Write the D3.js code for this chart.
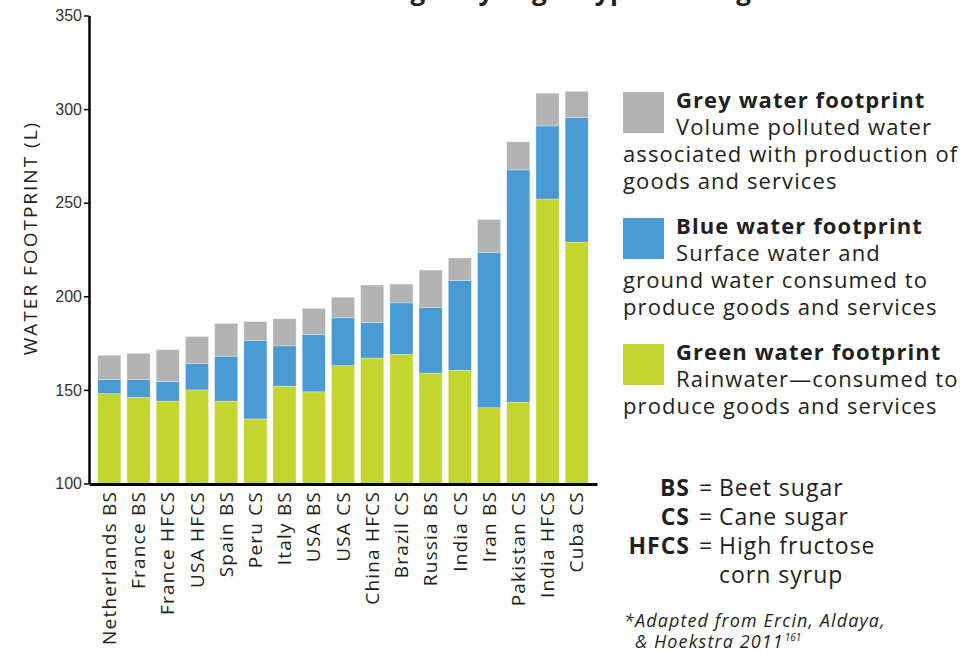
<!DOCTYPE html>
<html>
<head>
<meta charset="utf-8">
<script src="https://cdn.jsdelivr.net/npm/d3@7"></script>
<style>
  body { margin: 0; background: #fff; }
  svg { display: block; }
</style>
</head>
<body>
<svg id="chart" width="976" height="654"></svg>
<script>
// chart values
const categories = ["Netherlands BS", "France BS", "France HFCS", "USA HFCS", "Spain BS", "Peru CS",
  "Italy BS", "USA BS", "USA CS", "China HFCS", "Brazil CS", "Russia BS", "India CS", "Iran BS",
  "Pakistan CS", "India HFCS", "Cuba CS"];
const green = [148, 146, 144, 150, 144, 134.5, 152, 149, 163, 167, 169, 159, 160.5, 140.5, 143.5, 252, 229];
const blue = [7.5, 9.5, 10.5, 14, 24, 42, 21.5, 30.5, 25.5, 19, 27.5, 35, 48, 83, 124, 39, 66.5];
const grey = [13, 14, 17, 14.5, 17.5, 10, 14.5, 14, 11, 20, 10, 20, 12, 17.5, 15, 17.5, 14];
const yTicks = [100, 150, 200, 250, 300, 350];

const seriesKeys = ["green", "blue", "grey"];
const legendTitles = ["Grey water footprint", "Blue water footprint", "Green water footprint"];
const legendLines = [
  ["Volume polluted water", "associated with production of", "goods and services"],
  ["Surface water and", "ground water consumed to", "produce goods and services"],
  ["Rainwater\u2014consumed to", "produce goods and services"]
];
const abbrevKeys = ["BS", "CS", "HFCS"];
const abbrevText = [["Beet sugar"], ["Cane sugar"], ["High fructose", "corn syrup"]];

const colors = { green: "#c3d52e", blue: "#4a9bd3", grey: "#b3b3b3" };
const textFont = "'Open Sans', sans-serif";
const ink = "#231f20";

const svg = d3.select("#chart");

// table for the stack
const table = categories.map((c, i) => ({ type: c, green: green[i], blue: blue[i], grey: grey[i] }));

const x = d3.scaleBand()
  .domain(categories)
  .range([89, 597])
  .paddingInner(0.21)
  .paddingOuter(0.3);

const y = d3.scaleLinear()
  .domain([100, 350])
  .range([483.5, 15.5])
  .clamp(true);

const stacked = d3.stack().keys(seriesKeys)(table);

// title, mostly above the top edge
svg.append("text")
  .attr("x", 498)
  .attr("y", 0)
  .attr("text-anchor", "middle")
  .style("font-family", textFont)
  .style("font-weight", 700)
  .style("font-size", "26px")
  .style("letter-spacing", "0.5px")
  .attr("fill", ink)
  .text("Water use of sugar by sugar type and region");

// bars
svg.append("g")
  .selectAll("g")
  .data(stacked)
  .join("g")
  .attr("fill", d => colors[d.key])
  .selectAll("rect")
  .data(d => d)
  .join("rect")
  .attr("x", d => x(d.data.type))
  .attr("y", d => y(d[1]))
  .attr("height", d => y(d[0]) - y(d[1]))
  .attr("width", x.bandwidth())
  .attr("stroke", "#ffffff")
  .attr("stroke-opacity", 0.35)
  .attr("stroke-width", 0.8);

// y axis
const yAxis = svg.append("g")
  .attr("transform", "translate(89,0)")
  .call(d3.axisLeft(y).tickValues(yTicks).tickSize(5).tickPadding(2).tickSizeOuter(0));
yAxis.select(".domain").attr("stroke", "#000").attr("stroke-width", 2.5);
yAxis.selectAll(".tick line").attr("stroke", "#000").attr("stroke-width", 1.5);
yAxis.selectAll(".tick text")
  .style("font-family", "'Liberation Sans', Arial, sans-serif")
  .style("font-size", "16px")
  .attr("fill", "#333");

// x axis
const xAxis = svg.append("g")
  .attr("transform", "translate(0,484)")
  .call(d3.axisBottom(x).tickSize(0).tickSizeOuter(0));
xAxis.select(".domain").attr("stroke", "#000").attr("stroke-width", 3);
xAxis.selectAll(".tick text")
  .attr("transform", "rotate(-90)")
  .attr("x", -7)
  .attr("y", 0)
  .attr("dy", "0.35em")
  .attr("text-anchor", "end")
  .style("font-family", textFont)
  .style("font-size", "19px")
  .style("letter-spacing", "1.2px")
  .attr("fill", ink);

// y axis title
svg.append("text")
  .attr("transform", "translate(37,238) rotate(-90)")
  .attr("text-anchor", "middle")
  .style("font-family", textFont)
  .style("font-size", "19px")
  .style("letter-spacing", "2px")
  .attr("fill", ink)
  .text("WATER FOOTPRINT (L)");

// legend
const legendTop = [92, 218, 344];
const lineH = 27;
legendTitles.forEach((t, i) => {
  const key = seriesKeys[2 - i];
  const g = svg.append("g")
    .style("font-family", textFont)
    .style("font-size", "22px")
    .style("letter-spacing", "1.1px")
    .attr("fill", ink);
  g.append("rect")
    .attr("x", 623).attr("y", legendTop[i])
    .attr("width", 41).attr("height", 41)
    .attr("fill", colors[key]);
  g.append("text")
    .attr("x", 676).attr("y", legendTop[i] + 16)
    .style("font-weight", 700)
    .text(t);
  legendLines[i].forEach((line, j) => {
    g.append("text")
      .attr("x", j === 0 ? 676 : 623)
      .attr("y", legendTop[i] + 16 + lineH * (j + 1))
      .text(line);
  });
});

// abbreviations
const abbrevY = [496, 525, 554];
const abbr = svg.append("g")
  .style("font-family", textFont)
  .style("font-size", "23px")
  .style("letter-spacing", "1px")
  .attr("fill", ink);
abbrevKeys.forEach((k, i) => {
  abbr.append("text")
    .attr("x", 690).attr("y", abbrevY[i])
    .attr("text-anchor", "end")
    .style("font-weight", 700)
    .text(k);
  abbr.append("text")
    .attr("x", 706).attr("y", abbrevY[i])
    .attr("text-anchor", "middle")
    .text("=");
  abbrevText[i].forEach((line, j) => {
    abbr.append("text")
      .attr("x", 719).attr("y", abbrevY[i] + j * 29)
      .text(line);
  });
});

// source note
const note = svg.append("g")
  .style("font-family", textFont)
  .style("font-style", "italic")
  .style("font-size", "18px")
  .style("letter-spacing", "1.1px")
  .attr("fill", ink);
note.append("text").attr("x", 624).attr("y", 627).text("*Adapted from Ercin, Aldaya,");
const note2 = note.append("text").attr("x", 635).attr("y", 648);
note2.append("tspan").text("& Hoekstra 2011");
note2.append("tspan").attr("dx", 1).attr("dy", -7).style("font-size", "10px").style("letter-spacing", "0px").text("161");
</script>
</body>
</html>
